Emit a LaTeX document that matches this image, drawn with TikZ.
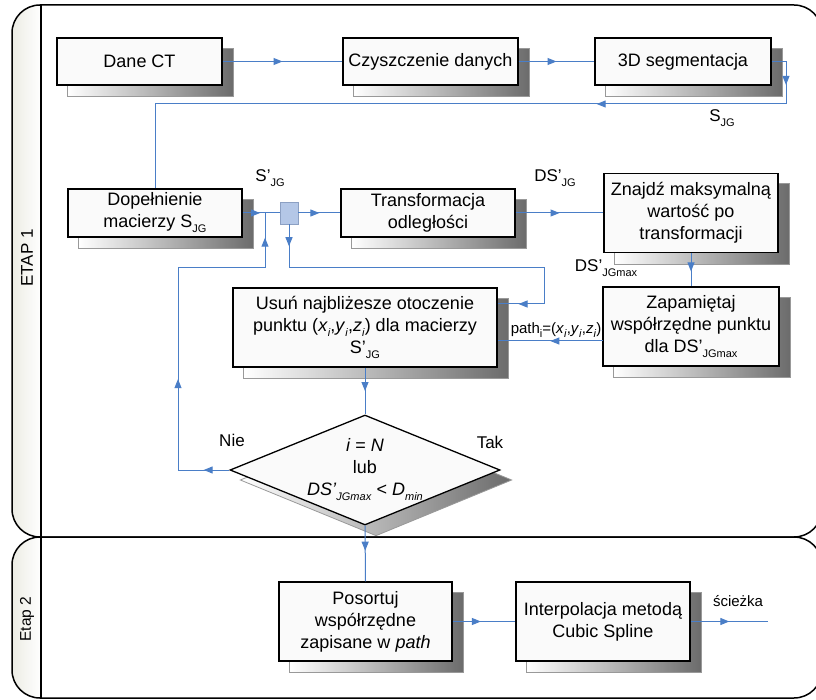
\documentclass[tikz,border=0pt]{standalone}
\usepackage{fontspec}
\setmainfont{Liberation Sans}
\usetikzlibrary{arrows.meta,shapes.geometric,decorations.markings,calc}
\definecolor{flowblue}{RGB}{74,126,199}
\definecolor{sqfill}{RGB}{180,199,231}
\definecolor{sqdraw}{RGB}{140,160,195}
\definecolor{bandcol}{RGB}{236,236,228}
\pgfdeclarelayer{lanes}
\pgfdeclarelayer{shad}
\pgfsetlayers{lanes,shad,main}
\newcommand{\lowsub}[1]{\raisebox{-0.28em}{\fontsize{11}{11}\selectfont #1}}
\tikzset{
  box/.style={draw=black, line width=1.3pt, fill=black!2, align=center, inner sep=2pt,
    font=\fontsize{18}{22}\selectfont},
  shadowsty/.style={draw=gray!80, line width=0.8pt, left color=white, right color=black!58},
  flow/.style={draw=flowblue, line width=1pt},
  midarr/.style={postaction={decorate},
    decoration={markings, mark=at position #1 with {\arrow{Triangle[length=9pt,width=7pt]}}}},
  lbl/.style={font=\fontsize{17}{20}\selectfont, inner sep=0pt},
  smalllbl/.style={font=\fontsize{15}{18}\selectfont, inner sep=0pt},
  lane/.style={draw=black, line width=1.5pt, rounded corners=28pt},
}
\newcommand{\shadowof}[1]{\shade[shadowsty] ($(#1.south west)+(11,11)$) rectangle ($(#1.north east)+(11,11)$);}
\begin{document}
\begin{tikzpicture}[x=1pt,y=-1pt]
\useasboundingbox (0,0) rectangle (816,700);
\clip (0,0) rectangle (816,700);
% lanes
\begin{pgfonlayer}{lanes}
\fill[white] (0,0) rectangle (816,700);
\begin{scope}
  \clip[rounded corners=28pt] (12,5) rectangle (822,537);
  \fill[left color=bandcol, right color=white] (12,5) rectangle (41,537);
\end{scope}
\begin{scope}
  \clip[rounded corners=28pt] (12,537) rectangle (822,698);
  \fill[left color=bandcol, right color=white] (12,537) rectangle (41,698);
\end{scope}
\draw[lane] (12,5) rectangle (822,537);
\draw[lane] (12,537) rectangle (822,698);
\draw[black, line width=1.3pt] (41,5) -- (41,698);
\end{pgfonlayer}
\node[lbl, rotate=90] (lane1) at (27,258) {ETAP 1};
\node[lbl, rotate=90, font=\fontsize{15.5}{18}\selectfont] (lane2) at (27,619) {Etap 2};

% boxes
\node[box, minimum width=165pt, minimum height=47pt] (dane) at (139.5,61.5) {Dane CT};
\node[box, minimum width=175pt, minimum height=47pt] (czysz) at (430.5,61.5) {Czyszczenie danych};
\node[box, minimum width=176pt, minimum height=47pt] (seg) at (683,61.5) {3D segmentacja};
\node[box, minimum width=174pt, minimum height=48pt] (dopel) at (155,213) {Dopełnienie\\macierzy S\lowsub{JG}};
\node[draw=sqdraw, fill=sqfill, line width=0.8pt, minimum width=18pt, minimum height=22pt, inner sep=0pt] (sq) at (289,213) {};
\node[box, minimum width=174pt, minimum height=48pt] (trans) at (428,213) {Transformacja\\odległości};
\node[box, minimum width=174pt, minimum height=79pt] (znajdz) at (691,213) {Znajdź maksymalną\\wartość po\\transformacji};
\node[box, minimum width=176pt, minimum height=79pt] (zapam) at (691,326.5) {Zapamiętaj\\współrzędne punktu\\dla DS’\lowsub{JGmax}};
\node[box, minimum width=264pt, minimum height=79pt] (usun) at (365,327.5) {Usuń najbliżesze otoczenie\\punktu (\textit{x}\lowsub{\textit{i}},\textit{y}\lowsub{\textit{i}},\textit{z}\lowsub{\textit{i}}) dla macierzy\\S’\lowsub{JG}};
\node[box, shape=diamond, aspect=2.4545, minimum width=270pt, minimum height=110pt, inner sep=0pt] (dia) at (365,470) {};
\node[align=center, font=\fontsize{18}{22}\selectfont, inner sep=0pt] (diatext) at (dia.center)
  {\textit{i} = \textit{N}\\lub\\\textit{DS’}\lowsub{\textit{JGmax}} < \textit{D}\lowsub{\textit{min}}};
\node[box, minimum width=173pt, minimum height=79pt] (posort) at (365.5,621.5) {Posortuj\\współrzędne\\zapisane w \textit{path}};
\node[box, minimum width=174pt, minimum height=79pt] (interp) at (603,621.5) {Interpolacja metodą\\Cubic Spline};

% shadows
\begin{pgfonlayer}{shad}
\shadowof{dane}
\shadowof{czysz}
\shadowof{seg}
\shadowof{dopel}
\shadowof{trans}
\shadowof{znajdz}
\shadowof{zapam}
\shadowof{usun}
\shadowof{posort}
\shadowof{interp}
\shade[shadowsty] ($(dia.north)+(11,10)$) -- ($(dia.east)+(11,10)$) -- ($(dia.south)+(11,10)$) -- ($(dia.west)+(11,10)$) -- cycle;
\end{pgfonlayer}

% coordinates
\coordinate (c1) at (786,61.5);
\coordinate (c2) at (786,104);
\coordinate (c3) at (155,104);
\coordinate (j1) at (265,213);
\coordinate (c4) at (289,268);
\coordinate (c5) at (544,268);
\coordinate (c6) at (544,304);
\coordinate (p1) at (603,341);
\coordinate (c7) at (178,470);
\coordinate (c8) at (178,268);
\coordinate (c9) at (265,268);
\coordinate (out) at (768,621.5);

% connectors
\draw[flow, midarr=0.5] (dane.east) -- (czysz.west);
\draw[flow, midarr=0.5] (czysz.east) -- (seg.west);
\draw[flow] (seg.east) -- (c1);
\draw[flow, midarr=0.55] (c1) -- (c2);
\draw[flow, midarr=0.3] (c2) -- (c3);
\draw[flow] (c3) -- (dopel.north);
\draw[flow, midarr=0.78] (dopel.east) -- (j1);
\draw[flow] (j1) -- (sq.west);
\draw[flow, midarr=0.5] (sq.east) -- (trans.west);
\draw[flow, midarr=0.5] (trans.east) -- (znajdz.west);
\draw[flow, midarr=0.55] (znajdz.south) -- (zapam.north);
\draw[flow, midarr=0.5] (sq.south) -- (c4);
\draw[flow] (c4) -- (c5) -- (c6);
\draw[flow, midarr=0.55] (c6) -- (c6 -| usun.east);
\draw[flow, midarr=0.5] (p1) -- (p1 -| usun.east);
\draw[flow, midarr=0.5] (usun.south) -- (dia.north);
\draw[flow, midarr=0.5] (dia.west) -- (c7);
\draw[flow, midarr=0.45] (c7) -- (c8);
\draw[flow] (c8) -- (c9);
\draw[flow, midarr=0.55] (c9) -- (j1);
\draw[flow, midarr=0.45] (dia.south) -- (posort.north);
\draw[flow, midarr=0.45] (posort.east) -- (interp.west);
\draw[flow, midarr=0.5] (interp.east) -- (out);

% labels
\node[lbl] (lsjg) at (722,118) {S\lowsub{JG}};
\node[lbl] (lsjg2) at (270,178) {S’\lowsub{JG}};
\node[lbl] (ldsjg) at (555,178) {DS’\lowsub{JG}};
\node[lbl] (ldsmax) at (606,268) {DS’\lowsub{JGmax}};
\node[smalllbl] (lpath) at (556,330) {path\lowsub{i}=(\textit{x}\lowsub{\textit{i}},\textit{y}\lowsub{\textit{i}},\textit{z}\lowsub{\textit{i}})};
\node[lbl] (lnie) at (232,440) {Nie};
\node[lbl] (ltak) at (490,442) {Tak};
\node[smalllbl] (lsciezka) at (738,601) {ścieżka};
\end{tikzpicture}
\end{document}
